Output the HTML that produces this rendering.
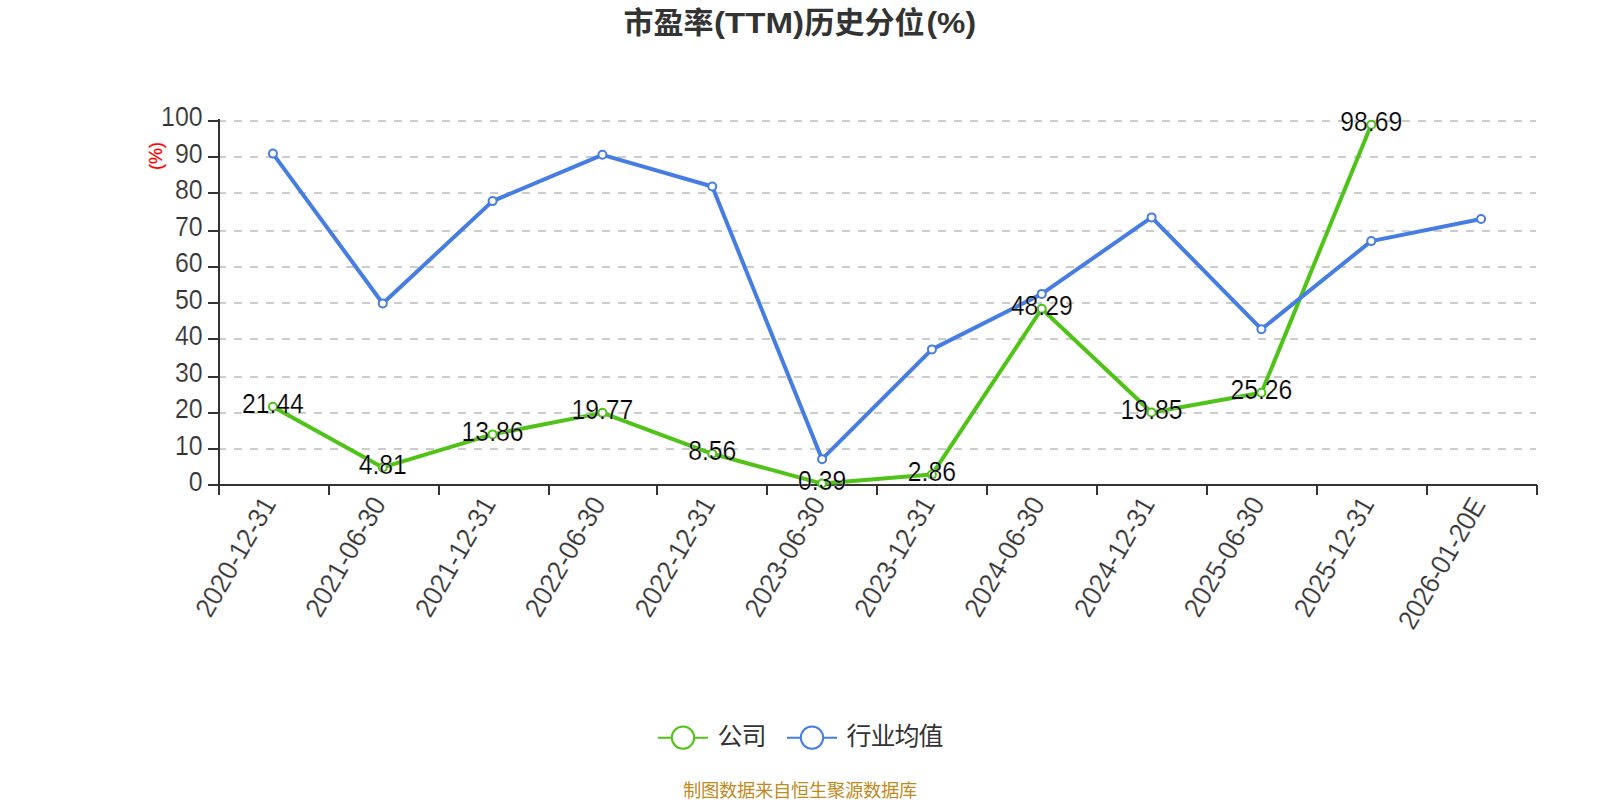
<!DOCTYPE html>
<html lang="zh-CN"><head><meta charset="utf-8"><title>市盈率(TTM)历史分位(%)</title>
<style>
html,body{margin:0;padding:0;background:#fff;width:1600px;height:800px;overflow:hidden}
svg{display:block}
text{font-family:"Liberation Sans","Noto Sans CJK SC",sans-serif}
.t{font-weight:bold;font-size:30px;fill:#333}
.yl{font-size:27.5px;fill:#333;text-anchor:end;stroke:#fff;stroke-width:0.2px}
.xl{font-size:27.5px;fill:#333;text-anchor:end;stroke:#fff;stroke-width:0.2px}
.dl{font-size:27.5px;fill:#000;text-anchor:middle;stroke:#fff;stroke-width:0.25px}
.lg{font-size:25px;fill:#333;letter-spacing:-1px}
</style></head><body>
<svg width="1600" height="800" viewBox="0 0 1600 800">
<rect width="1600" height="800" fill="#fff"/>
<text class="t" y="32.5"><tspan x="623.5" textLength="90" lengthAdjust="spacingAndGlyphs">市盈率</tspan><tspan x="714" textLength="90" lengthAdjust="spacingAndGlyphs">(TTM)</tspan><tspan x="804.5" textLength="120" lengthAdjust="spacingAndGlyphs">历史分位</tspan><tspan x="926.5" textLength="49.5" lengthAdjust="spacingAndGlyphs">(%)</tspan></text>
<g stroke="#ccc" stroke-width="2" stroke-dasharray="8 8" shape-rendering="crispEdges">
<line x1="218" y1="121" x2="1536" y2="121"/>
<line x1="218" y1="157" x2="1536" y2="157"/>
<line x1="218" y1="193" x2="1536" y2="193"/>
<line x1="218" y1="231" x2="1536" y2="231"/>
<line x1="218" y1="267" x2="1536" y2="267"/>
<line x1="218" y1="303" x2="1536" y2="303"/>
<line x1="218" y1="339" x2="1536" y2="339"/>
<line x1="218" y1="377" x2="1536" y2="377"/>
<line x1="218" y1="413" x2="1536" y2="413"/>
<line x1="218" y1="449" x2="1536" y2="449"/>
</g>
<g stroke="#333" stroke-width="2" shape-rendering="crispEdges">
<line x1="219" y1="119" x2="219" y2="486"/>
<line x1="218" y1="485" x2="1537" y2="485"/>
<line x1="208" y1="121" x2="218" y2="121"/>
<line x1="208" y1="157" x2="218" y2="157"/>
<line x1="208" y1="193" x2="218" y2="193"/>
<line x1="208" y1="231" x2="218" y2="231"/>
<line x1="208" y1="267" x2="218" y2="267"/>
<line x1="208" y1="303" x2="218" y2="303"/>
<line x1="208" y1="339" x2="218" y2="339"/>
<line x1="208" y1="377" x2="218" y2="377"/>
<line x1="208" y1="413" x2="218" y2="413"/>
<line x1="208" y1="449" x2="218" y2="449"/>
<line x1="208" y1="485" x2="218" y2="485"/>
<line x1="219" y1="485" x2="219" y2="495"/>
<line x1="329" y1="485" x2="329" y2="495"/>
<line x1="439" y1="485" x2="439" y2="495"/>
<line x1="549" y1="485" x2="549" y2="495"/>
<line x1="657" y1="485" x2="657" y2="495"/>
<line x1="767" y1="485" x2="767" y2="495"/>
<line x1="877" y1="485" x2="877" y2="495"/>
<line x1="987" y1="485" x2="987" y2="495"/>
<line x1="1097" y1="485" x2="1097" y2="495"/>
<line x1="1207" y1="485" x2="1207" y2="495"/>
<line x1="1317" y1="485" x2="1317" y2="495"/>
<line x1="1427" y1="485" x2="1427" y2="495"/>
<line x1="1537" y1="485" x2="1537" y2="495"/>
</g>
<g class="yl">
<text transform="translate(202.6 126.10) scale(0.905 1)">100</text>
<text transform="translate(202.6 162.60) scale(0.905 1)">90</text>
<text transform="translate(202.6 199.10) scale(0.905 1)">80</text>
<text transform="translate(202.6 235.60) scale(0.905 1)">70</text>
<text transform="translate(202.6 272.10) scale(0.905 1)">60</text>
<text transform="translate(202.6 308.60) scale(0.905 1)">50</text>
<text transform="translate(202.6 345.10) scale(0.905 1)">40</text>
<text transform="translate(202.6 381.60) scale(0.905 1)">30</text>
<text transform="translate(202.6 418.10) scale(0.905 1)">20</text>
<text transform="translate(202.6 454.60) scale(0.905 1)">10</text>
<text transform="translate(202.6 491.10) scale(0.905 1)">0</text>
</g>
<text transform="translate(162.1 155.9) rotate(-90)" text-anchor="middle" font-size="18" fill="#f00" stroke="#f00" stroke-width="0.25">(%)</text>
<g class="xl">
<text transform="translate(277.02 503.80) rotate(-60) scale(0.945 1)">2020-12-31</text>
<text transform="translate(386.85 503.80) rotate(-60) scale(0.945 1)">2021-06-30</text>
<text transform="translate(496.68 503.80) rotate(-60) scale(0.945 1)">2021-12-31</text>
<text transform="translate(606.52 503.80) rotate(-60) scale(0.945 1)">2022-06-30</text>
<text transform="translate(716.35 503.80) rotate(-60) scale(0.945 1)">2022-12-31</text>
<text transform="translate(826.18 503.80) rotate(-60) scale(0.945 1)">2023-06-30</text>
<text transform="translate(936.02 503.80) rotate(-60) scale(0.945 1)">2023-12-31</text>
<text transform="translate(1045.85 503.80) rotate(-60) scale(0.945 1)">2024-06-30</text>
<text transform="translate(1155.68 503.80) rotate(-60) scale(0.945 1)">2024-12-31</text>
<text transform="translate(1265.52 503.80) rotate(-60) scale(0.945 1)">2025-06-30</text>
<text transform="translate(1375.35 503.80) rotate(-60) scale(0.945 1)">2025-12-31</text>
<text transform="translate(1486.18 504.80) rotate(-60) scale(0.945 1)" letter-spacing="-0.4">2026-01-20E</text>
</g>
<polyline points="272.92,406.74 382.75,467.44 492.58,434.41 602.42,412.84 712.25,453.76 822.08,483.58 931.92,474.56 1041.75,308.74 1151.58,412.55 1261.42,392.80 1371.25,124.78" fill="none" stroke="#4fc317" stroke-width="4" stroke-linejoin="bevel"/>
<polyline points="272.92,153.60 382.75,303.50 492.58,201.10 602.42,154.80 712.25,186.50 822.08,459.20 931.92,349.40 1041.75,293.90 1151.58,217.40 1261.42,329.20 1371.25,241.10 1481.08,219.00" fill="none" stroke="#467de2" stroke-width="4" stroke-linejoin="bevel"/>
<g fill="#fff" stroke-width="2" stroke="#4fc317">
<circle cx="272.92" cy="406.74" r="4"/>
<circle cx="382.75" cy="467.44" r="4"/>
<circle cx="492.58" cy="434.41" r="4"/>
<circle cx="602.42" cy="412.84" r="4"/>
<circle cx="712.25" cy="453.76" r="4"/>
<circle cx="822.08" cy="483.58" r="4"/>
<circle cx="931.92" cy="474.56" r="4"/>
<circle cx="1041.75" cy="308.74" r="4"/>
<circle cx="1151.58" cy="412.55" r="4"/>
<circle cx="1261.42" cy="392.80" r="4"/>
<circle cx="1371.25" cy="124.78" r="4"/>
</g>
<g fill="#fff" stroke-width="2" stroke="#467de2">
<circle cx="272.92" cy="153.60" r="4"/>
<circle cx="382.75" cy="303.50" r="4"/>
<circle cx="492.58" cy="201.10" r="4"/>
<circle cx="602.42" cy="154.80" r="4"/>
<circle cx="712.25" cy="186.50" r="4"/>
<circle cx="822.08" cy="459.20" r="4"/>
<circle cx="931.92" cy="349.40" r="4"/>
<circle cx="1041.75" cy="293.90" r="4"/>
<circle cx="1151.58" cy="217.40" r="4"/>
<circle cx="1261.42" cy="329.20" r="4"/>
<circle cx="1371.25" cy="241.10" r="4"/>
<circle cx="1481.08" cy="219.00" r="4"/>
</g>
<g class="dl">
<text transform="translate(272.92 412.94) scale(0.9 1)">21.44</text>
<text transform="translate(382.75 473.64) scale(0.9 1)">4.81</text>
<text transform="translate(492.58 440.61) scale(0.9 1)">13.86</text>
<text transform="translate(602.42 419.04) scale(0.9 1)">19.77</text>
<text transform="translate(712.25 459.96) scale(0.9 1)">8.56</text>
<text transform="translate(822.08 489.78) scale(0.9 1)">0.39</text>
<text transform="translate(931.92 480.76) scale(0.9 1)">2.86</text>
<text transform="translate(1041.75 314.94) scale(0.9 1)">48.29</text>
<text transform="translate(1151.58 418.75) scale(0.9 1)">19.85</text>
<text transform="translate(1261.42 399.00) scale(0.9 1)">25.26</text>
<text transform="translate(1371.25 130.98) scale(0.9 1)">98.69</text>
</g>
<g stroke-width="2" fill="#fff">
<line x1="658" y1="737.75" x2="708" y2="737.75" stroke="#4fc317"/>
<circle cx="683" cy="737.6" r="11.2" stroke="#4fc317"/>
<line x1="787" y1="737.75" x2="837" y2="737.75" stroke="#467de2"/>
<circle cx="812" cy="737.6" r="11.2" stroke="#467de2"/>
</g>
<g class="lg">
<text x="717.5" y="745.2">公司</text>
<text x="846.5" y="745.2">行业均值</text>
</g>
<text x="800" y="796.8" text-anchor="middle" font-size="18.3" letter-spacing="-0.3" fill="#c08a1e">制图数据来自恒生聚源数据库</text>
</svg>
</body></html>
